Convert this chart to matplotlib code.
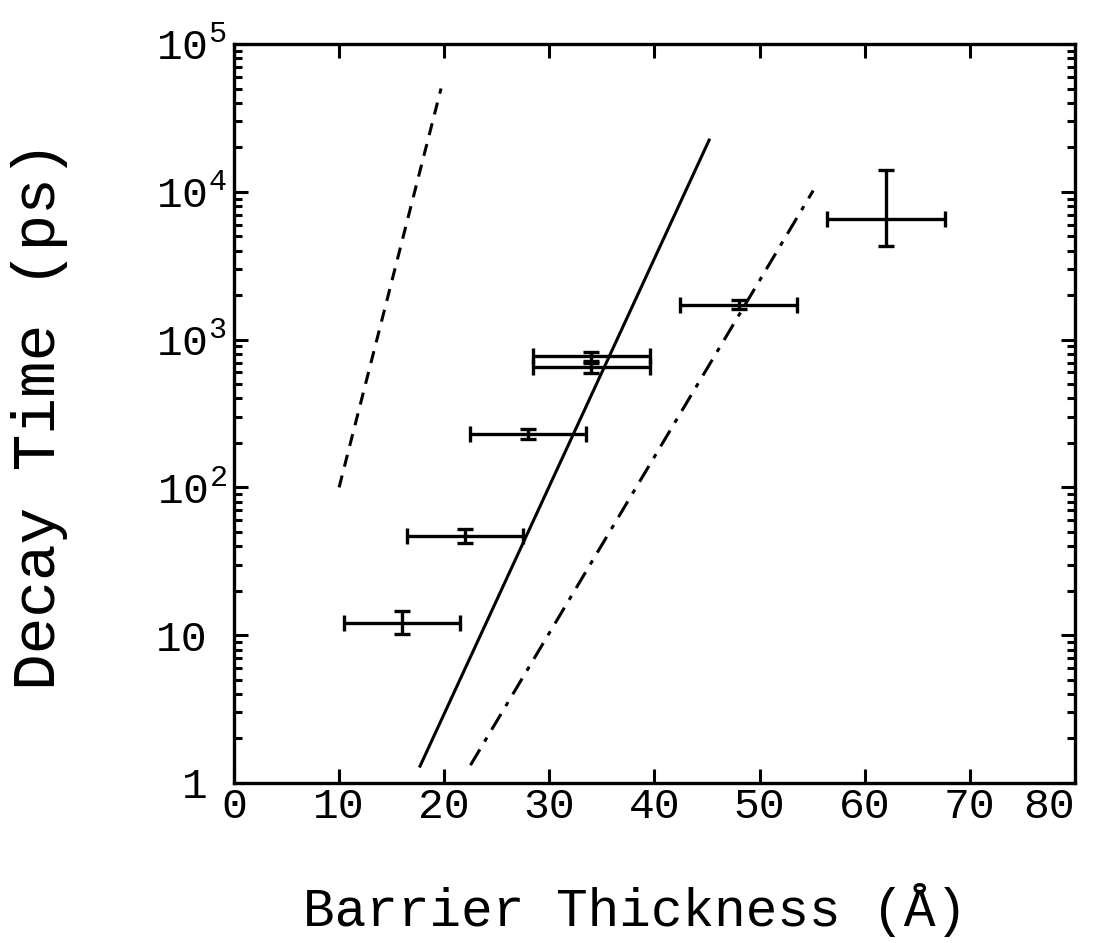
import matplotlib
matplotlib.use("Agg")
import matplotlib.pyplot as plt
import matplotlib.transforms as mtransforms
import numpy as np
from matplotlib.ticker import FixedLocator, LogLocator, NullLocator, NullFormatter

plt.rcParams['font.family'] = ['Liberation Mono', 'DejaVu Sans Mono']
plt.rcParams['mathtext.fontset'] = 'custom'
plt.rcParams['mathtext.rm'] = 'Liberation Mono'
plt.rcParams['mathtext.it'] = 'Liberation Mono'

# data points
x_pts = [16.0, 22.0, 28.0, 34.0, 34.0, 48.0, 62.0]
y_pts = [12.0, 47.0, 230.0, 770.0, 650.0, 1720.0, 6500.0]
x_err = [5.5, 5.5, 5.5, 5.6, 5.6, 5.6, 5.6]
y_err_lo = [1.8, 5.0, 18.0, 50.0, 60.0, 120.0, 2200.0]
y_err_hi = [2.5, 5.0, 18.0, 60.0, 50.0, 120.0, 7500.0]

# model lines (endpoints)
dashed_x = [10.0, 19.7]
dashed_y = [100.0, 50000.0]
solid_x = [17.7, 45.2]
solid_y = [1.3, 22400.0]
dashdot_x = [22.5, 55.1]
dashdot_y = [1.32, 10200.0]

x_ticks = [0, 10, 20, 30, 40, 50, 60, 70, 80]
y_ticks = [1, 10, 100, 1000, 10000, 100000]
y_tick_labels = ['1', '10', r'$10^{2}$', r'$10^{3}$', r'$10^{4}$', r'$10^{5}$']

fig = plt.figure(figsize=(11.12, 9.43), dpi=100)
ax = fig.add_axes([0.2104, 0.1697, 0.9667 - 0.2104, 0.9533 - 0.1697])

ax.set_yscale('log')
ax.set_xlim(0, 80)
ax.set_ylim(1, 1e5)

ax.plot(dashed_x, dashed_y, color='black', lw=2.2, linestyle=(0, (4, 3)))
ax.plot(solid_x, solid_y, color='black', lw=2.2, linestyle='-')
ax.plot(dashdot_x, dashdot_y, color='black', lw=2.2, linestyle=(0, (6, 3, 1.5, 3)))

ax.errorbar(x_pts, y_pts, xerr=x_err, yerr=[y_err_lo, y_err_hi], fmt='none',
            ecolor='black', elinewidth=2.4, capsize=5.5, capthick=2.4)

ax.xaxis.set_major_locator(FixedLocator(x_ticks))
ax.xaxis.set_minor_locator(NullLocator())
ax.yaxis.set_major_locator(FixedLocator(y_ticks))
ax.yaxis.set_minor_locator(LogLocator(base=10, subs=np.arange(2, 10)))
ax.set_xticklabels([str(t) for t in x_ticks])
ax.set_yticklabels(y_tick_labels)
ax.yaxis.set_minor_formatter(NullFormatter())

ax.tick_params(which='both', direction='in', top=True, right=True, width=2.2, labelsize=31)
ax.tick_params(axis='x', pad=3)
ax.tick_params(axis='y', pad=19)
ax.tick_params(which='major', length=10)
ax.tick_params(which='minor', length=6)
for s in ax.spines.values():
    s.set_linewidth(2.4)

# last x label sits inside the frame edge, as in the reference
xlabels = ax.xaxis.get_majorticklabels()
xlabels[-1].set_horizontalalignment('right')

# superscripted y labels: keep the "10" aligned with the plain labels
shift = mtransforms.ScaledTranslation(0.19, 0, fig.dpi_scale_trans)
for lab, txt in zip(ax.yaxis.get_majorticklabels(), y_tick_labels):
    if '^' in txt:
        lab.set_transform(lab.get_transform() + shift)

fig.text(635 / 1112, 1 - 910 / 943, 'Barrier Thickness (Å)', fontsize=38,
         ha='center', va='center')
fig.text(40 / 1112, 1 - 415 / 943, 'Decay Time (ps)', fontsize=44,
         ha='center', va='center', rotation=90)

fig.savefig('out.png', dpi=100)
